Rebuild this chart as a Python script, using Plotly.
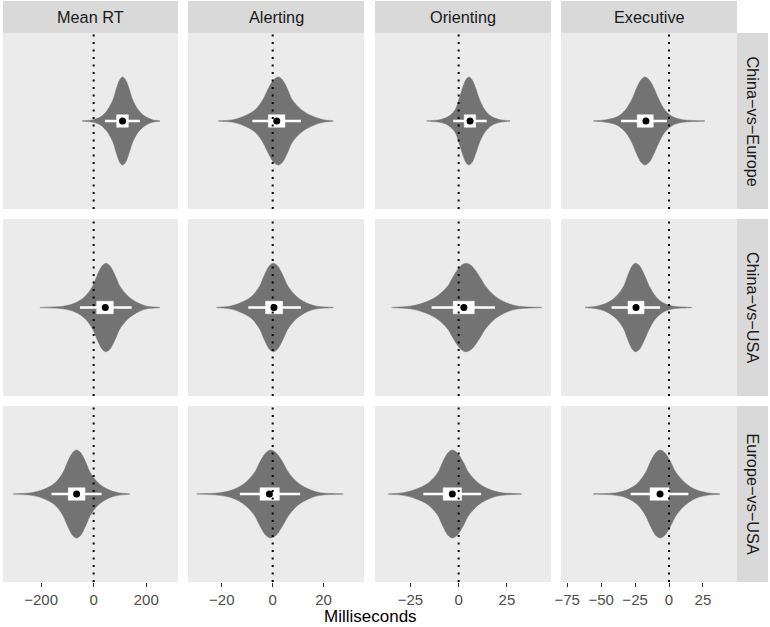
import plotly.graph_objects as go

# ---------------- data ----------------
row_labels = ["China−vs−Europe", "China−vs−USA", "Europe−vs−USA"]
col_labels = ["Mean RT", "Alerting", "Orienting", "Executive"]
x_title = "Milliseconds"

col_tickvals = [[-200, 0, 200], [-20, 0, 20], [-25, 0, 25], [-75, -50, -25, 0, 25]]
col_ranges = [[-345, 321], [-33.3, 35.9], [-43.3, 47.8], [-79.6, 50.1]]

# relative density levels at which the violin edges were read
density_levels = [0, 0.03, 0.1, 0.25, 0.5, 0.65, 0.85, 0.95]

# x of the density peak (relative density 1)
peak_x = [[110, 2.2, 5.3, -17.7],
          [46.9, 0.25, 3.8, -24.6],
          [-64.9, -0.8, -3.3, -6.6]]

# left / right violin edges at each density level
left_edges = [
    [[-44.6, -1.4, 28, 52.5, 74.8, 82.3, 93.0, 100.4],
     [-21.4, -15.5, -11.6, -7.0, -3.7, -2.45, -0.66, 0.6],
     [-16.6, -9.7, -5.4, -1.9, 0.2, 1.28, 2.83, 3.91],
     [-55.8, -46, -38, -32.2, -27.2, -25.2, -22.3, -20.3]],
    [[-204.6, -115.7, -71.2, -33.1, -2.5, 8.0, 23.0, 33.5],
     [-22.1, -16.8, -12.9, -8.3, -5.0, -3.89, -2.29, -1.18],
     [-34.7, -25.2, -18.5, -11.4, -5.4, -3.45, -0.65, 1.3],
     [-61.9, -53.3, -46, -39.0, -33.1, -31.3, -28.7, -26.9]],
    [[-306.2, -236.3, -191.9, -147.4, -115.7, -104.9, -89.5, -78.7],
     [-29.9, -20.7, -15.5, -10.9, -7.0, -5.69, -3.8, -2.49],
     [-36.5, -28.7, -22.6, -15.7, -10.6, -9.05, -6.83, -5.29],
     [-55.8, -38.6, -30.5, -23, -17.1, -14.9, -11.7, -9.46]],
]
right_edges = [
    [[252.6, 224, 197, 170, 147.2, 139.3, 128.0, 120.1],
     [23.9, 19.9, 16.0, 11.4, 7.5, 6.38, 4.77, 3.64],
     [26.6, 21.4, 17.1, 13.6, 10.7, 9.55, 7.91, 6.77],
     [26.5, 10, 2.5, -3, -7.6, -9.74, -12.8, -15.0]],
    [[252.6, 201.8, 170, 132, 98, 87.2, 71.6, 60.8],
     [23.9, 17.3, 13.4, 9.4, 5.8, 4.62, 2.94, 1.76],
     [43, 31, 25, 19.0, 13.6, 11.52, 8.54, 6.47],
     [16.7, 3.2, -4, -9.8, -14.8, -16.9, -19.9, -21.9]],
    [[138.3, 93.9, 55.7, 17.6, -14.1, -24.9, -40.3, -51.1],
     [27.8, 18.6, 14.6, 10, 6.1, 4.64, 2.54, 1.08],
     [32.6, 22.3, 16.2, 10.2, 5.0, 3.24, 0.72, -1.04],
     [37.6, 27.8, 19.5, 12, 4.9, 2.46, -1.03, -3.47]],
]

# box-plot statistics
q1_vals = [[87.5, -1.7, 2.9, -23.4], [11.4, -2.8, -2.8, -30.2], [-96.6, -5.0, -8.0, -14.0]]
q3_vals = [[132, 4.8, 8.8, -11.6], [74.8, 3.9, 8.1, -18.4], [-33, 2.6, 1.5, 0]]
whisker_lo = [[43, -8.0, -2.8, -35.4], [-52.2, -9.6, -14.0, -42.3], [-160.2, -12.9, -18.3, -28.3]]
whisker_hi = [[176, 11.1, 14.5, -1.5], [144.6, 11.1, 18.8, -6.6], [30.3, 10.8, 11.6, 14.3]]
mean_vals = [[110, 1.6, 5.9, -17.0], [44.3, 0.5, 2.7, -24.3], [-64.9, -1.3, -3.3, -6.6]]

# ---------------- layout geometry ----------------
W, H = 770, 627
col_px = [(3, 178), (188, 364), (375, 551), (561, 737)]
row_px = [(33, 209), (219, 396), (406, 582)]
strip_top = (1, 33)
strip_right = (737, 768)
VIOLIN_HALF = 0.5    # y units for relative density 1 (y range is [-1, 1])
BOX_HALF = 0.071

FONT = "Liberation Sans, Arial, Helvetica, sans-serif"


def px_x(p):
    return p / W


def px_y(p):
    return 1 - p / H


fig = go.Figure()
layout = dict(
    template="none",
    width=W, height=H, margin=dict(l=0, r=0, t=0, b=0, pad=0, autoexpand=False),
    paper_bgcolor="white", plot_bgcolor="#EBEBEB", showlegend=False,
    font=dict(family=FONT),
)
shapes = []
annotations = []

for r in range(3):
    for c in range(4):
        i = r * 4 + c + 1
        xa = "x" if i == 1 else f"x{i}"
        ya = "y" if i == 1 else f"y{i}"
        bottom = (r == 2)
        layout[f"xaxis{i}"] = dict(
            domain=[px_x(col_px[c][0]), px_x(col_px[c][1])],
            anchor=ya, range=col_ranges[c], showgrid=False, zeroline=False,
            showline=False, tickmode="array", tickvals=col_tickvals[c],
            ticks="outside" if bottom else "", ticklen=4, tickwidth=1,
            tickcolor="#333333", showticklabels=bottom, automargin=False,
            tickfont=dict(size=15, color="#4D4D4D", family=FONT),
            fixedrange=True,
        )
        layout[f"yaxis{i}"] = dict(
            domain=[px_y(row_px[r][1]), px_y(row_px[r][0])],
            anchor=xa, range=[-1, 1], showgrid=False, zeroline=False,
            showline=False, showticklabels=False, ticks="", fixedrange=True,
            automargin=False,
        )

        # violin outline
        le = left_edges[r][c]
        re_ = right_edges[r][c]
        lv = density_levels
        xs, ys = [], []
        for k in range(len(lv)):
            xs.append(le[k]); ys.append(lv[k] * VIOLIN_HALF)
        xs.append(peak_x[r][c]); ys.append(VIOLIN_HALF)
        for k in reversed(range(len(lv))):
            xs.append(re_[k]); ys.append(lv[k] * VIOLIN_HALF)
        for k in range(1, len(lv)):
            xs.append(re_[k]); ys.append(-lv[k] * VIOLIN_HALF)
        xs.append(peak_x[r][c]); ys.append(-VIOLIN_HALF)
        for k in reversed(range(1, len(lv))):
            xs.append(le[k]); ys.append(-lv[k] * VIOLIN_HALF)
        xs.append(le[0]); ys.append(0)
        fig.add_trace(go.Scatter(
            x=xs, y=ys, xaxis=xa, yaxis=ya, mode="lines", fill="toself",
            fillcolor="#737373", line=dict(color="#737373", width=0.5,
                                           shape="spline", smoothing=1.0),
            hoverinfo="skip",
        ))

        # whiskers
        fig.add_trace(go.Scatter(
            x=[whisker_lo[r][c], whisker_hi[r][c]], y=[0, 0], xaxis=xa, yaxis=ya,
            mode="lines", line=dict(color="white", width=2.3), hoverinfo="skip",
        ))
        # box (interquartile range)
        q1, q3 = q1_vals[r][c], q3_vals[r][c]
        fig.add_trace(go.Scatter(
            x=[q1, q3, q3, q1, q1], y=[-BOX_HALF, -BOX_HALF, BOX_HALF, BOX_HALF, -BOX_HALF],
            xaxis=xa, yaxis=ya, mode="lines", fill="toself", fillcolor="white",
            line=dict(color="white", width=0.5), hoverinfo="skip",
        ))
        # mean point
        fig.add_trace(go.Scatter(
            x=[mean_vals[r][c]], y=[0], xaxis=xa, yaxis=ya, mode="markers",
            marker=dict(color="black", size=7, line=dict(width=0)), hoverinfo="skip",
        ))

        # dotted zero line
        shapes.append(dict(
            type="line", xref=xa, yref=f"{ya} domain", x0=0, x1=0, y0=0, y1=1,
            line=dict(color="black", width=2, dash="2px,5.5px"), layer="above",
        ))

# strips
for c in range(4):
    shapes.append(dict(type="rect", xref="paper", yref="paper", layer="below",
                       x0=px_x(col_px[c][0]), x1=px_x(col_px[c][1]),
                       y0=px_y(strip_top[1]), y1=px_y(strip_top[0]),
                       fillcolor="#D9D9D9", line=dict(width=0)))
    annotations.append(dict(
        text=col_labels[c], xref="paper", yref="paper", showarrow=False,
        x=px_x((col_px[c][0] + col_px[c][1]) / 2),
        y=px_y((strip_top[0] + strip_top[1]) / 2),
        xanchor="center", yanchor="middle",
        font=dict(size=16.3, color="#1A1A1A", family=FONT)))
for r in range(3):
    shapes.append(dict(type="rect", xref="paper", yref="paper", layer="below",
                       x0=px_x(strip_right[0]), x1=px_x(strip_right[1]),
                       y0=px_y(row_px[r][1]), y1=px_y(row_px[r][0]),
                       fillcolor="#D9D9D9", line=dict(width=0)))
    annotations.append(dict(
        text=row_labels[r], xref="paper", yref="paper", showarrow=False,
        x=px_x((strip_right[0] + strip_right[1]) / 2),
        y=px_y((row_px[r][0] + row_px[r][1]) / 2),
        xanchor="center", yanchor="middle", textangle=90,
        font=dict(size=16.3, color="#1A1A1A", family=FONT)))

annotations.append(dict(
    text=x_title, xref="paper", yref="paper", showarrow=False,
    x=px_x((col_px[0][0] + col_px[3][1]) / 2), y=0,
    xanchor="center", yanchor="bottom", borderpad=0,
    font=dict(size=17, color="black", family=FONT)))

layout["shapes"] = shapes
layout["annotations"] = annotations
fig.update_layout(**layout)
fig.write_html("out.html", config={"displayModeBar": False},
               post_script="document.body.style.margin='0px';")
